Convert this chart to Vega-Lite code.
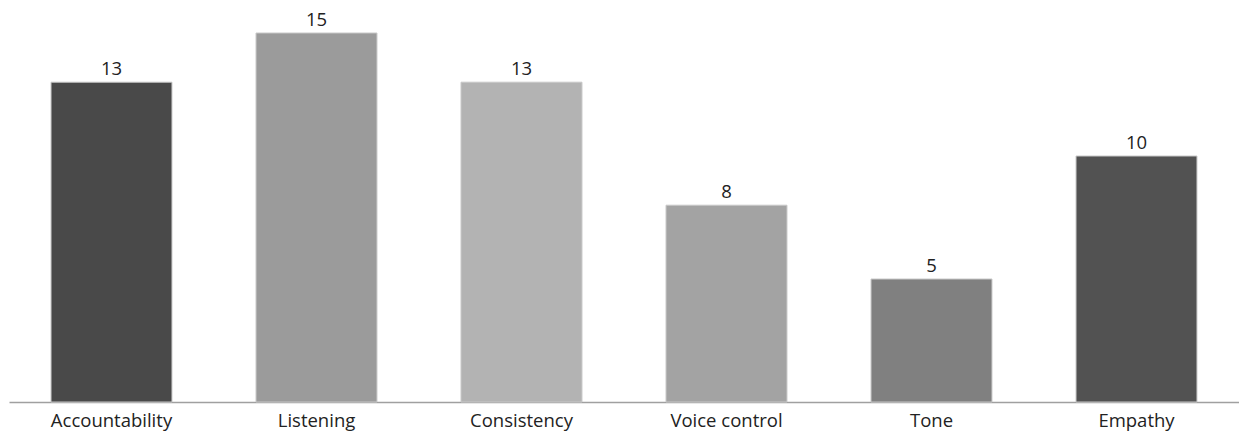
{
  "$schema": "https://vega.github.io/schema/vega-lite/v6.json",
  "autosize": {"type": "none"},
  "padding": {"left": 9, "top": 33, "right": 0, "bottom": 31},
  "width": 1230,
  "height": 369,
  "background": "white",
  "config": {"view": {"stroke": null}, "font": "Open Sans"},
  "data": {"values": [
    {"skill": "Accountability", "count": 13, "color": "#494949"},
    {"skill": "Listening", "count": 15, "color": "#9b9b9b"},
    {"skill": "Consistency", "count": 13, "color": "#b3b3b3"},
    {"skill": "Voice control", "count": 8, "color": "#a3a3a3"},
    {"skill": "Tone", "count": 5, "color": "#808080"},
    {"skill": "Empathy", "count": 10, "color": "#525252"}
  ]},
  "encoding": {
    "x": {"field": "skill", "type": "nominal", "sort": null,
      "scale": {"paddingInner": 0.41, "paddingOuter": 0.205},
      "axis": {"title": null, "labelAngle": 0, "labelFontSize": 18.5, "labelColor": "#222222", "labelPadding": 9,
        "ticks": false, "domainColor": "#a0a0a0", "domainWidth": 1.5, "labelFont": "Open Sans"}},
    "y": {"field": "count", "type": "quantitative", "scale": {"domain": [0, 15], "nice": false},
      "axis": null}
  },
  "layer": [
    {"mark": {"type": "bar", "stroke": "#c8c8c8", "strokeWidth": 1},
     "encoding": {"color": {"field": "color", "type": "nominal", "scale": null}}},
    {"mark": {"type": "text", "dy": -13, "fontSize": 18.5, "color": "#222222", "font": "Open Sans"},
     "encoding": {"text": {"field": "count", "type": "quantitative"}}}
  ]
}
